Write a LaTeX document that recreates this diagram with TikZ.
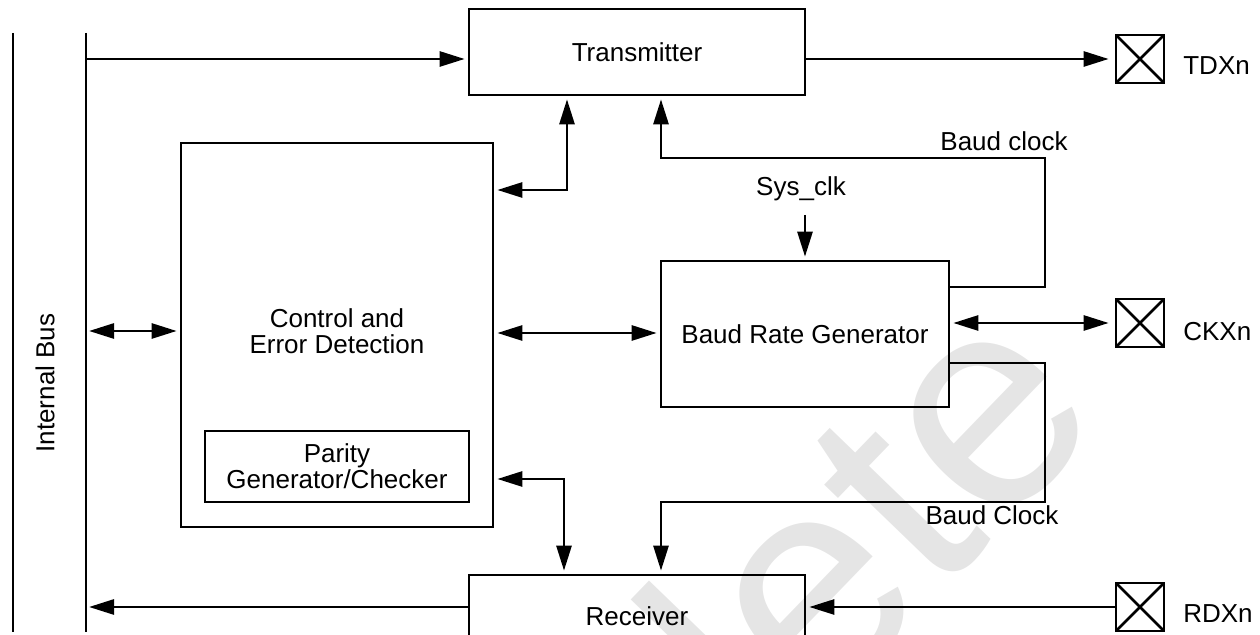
\documentclass[tikz,border=0pt]{standalone}
\usepackage{fontspec}
\setmainfont{Liberation Sans}
\usetikzlibrary{arrows.meta}
\newcommand\dfs{\fontsize{13pt}{13pt}\selectfont}
\begin{document}
\begin{tikzpicture}[x=0.5pt,y=-0.5pt,line width=1.35pt,
  box/.style={draw,inner sep=0pt,align=center,font=\dfs},
  lbl/.style={inner sep=0pt,align=center,font=\dfs},
  pad/.style={draw,minimum width=24pt,minimum height=24pt,inner sep=0pt,
    path picture={\draw (path picture bounding box.north west) -- (path picture bounding box.south east)
                        (path picture bounding box.north east) -- (path picture bounding box.south west);}},
  bigtri/.tip={Triangle[length=12.5pt,width=7.5pt]},
  arr/.style={-bigtri,shorten >=1.5pt},
  arrb/.style={bigtri-bigtri,shorten >=1.5pt,shorten <=1.5pt}]
\useasboundingbox (0,0) rectangle (1260,635);
% watermark
\begin{scope}
\clip (0,0) rectangle (1260,635);
\node[anchor=base east,rotate=46,inner sep=0pt,text=black!10,
  font=\fontsize{150pt}{150pt}\selectfont] (wm) at (1110,417) {Obsolete};
\end{scope}
% bus lines
\coordinate (outT) at (13,33);
\coordinate (outB) at (13,632);
\coordinate (busT) at (86,33);
\coordinate (busB) at (86,632);
\draw (outT) -- (outB);
\draw (busT) -- (busB);
\node[lbl,rotate=90] (ib) at (45,383) {Internal Bus};
% blocks
\node[box,minimum width=168pt,minimum height=43pt] (tx) at (637,52) {Transmitter};
\node[box,minimum width=156pt,minimum height=192pt] (ctrl) at (337,335) {};
\node[lbl] (ctrlt) at (337,331.5) {Control and\\Error Detection};
\node[box,minimum width=132pt,minimum height=35.5pt] (par) at (337,466.5) {Parity\\Generator/Checker};
\node[box,minimum width=144pt,minimum height=73pt] (brg) at (805,334) {Baud Rate Generator};
\node[box,minimum width=168pt,minimum height=41pt] (rx) at (637,616) {Receiver};
% pads
\node[pad] (td) at (1140,59) {};
\node[pad] (ck) at (1140,323) {};
\node[pad] (rd) at (1140,607) {};
\node[lbl,anchor=base west] (tdl) at (1182,75) {TDXn};
\node[lbl,anchor=base west] (ckl) at (1182,341) {CKXn};
\node[lbl,anchor=base west] (rdl) at (1182,623) {RDXn};
% labels
\node[lbl,anchor=base] (sys) at (801,196) {Sys\_clk};
\node[lbl,anchor=base] (bc1) at (1004,151) {Baud clock};
\node[lbl,anchor=base] (bc2) at (992,525) {Baud Clock};
% connectors
\draw[arr] (busT |- 0,59) -- (tx.west |- 0,59);
\draw[arr,shorten >=3pt] (tx.east |- td.west) -- (td.west);
\draw[arrb] (busT |- 0,331) -- (ctrl.west |- 0,331);
\draw[arrb] (ctrl.east |- 0,190) -| (tx.south -| 567,0);
\draw[arr] (brg.east |- 0,287) -| (1045,158) -| (tx.south -| 661,0);
\draw[arr] (brg.north |- 0,215) -- (brg.north);
\draw[arrb] (ctrl.east |- 0,333) -- (brg.west |- 0,333);
\draw[arrb,shorten >=3pt] (brg.east |- ck.west) -- (ck.west);
\draw[arr] (brg.east |- 0,363) -| (1045,502) -| (rx.north -| 661,0);
\draw[arrb] (ctrl.east |- 0,479) -| (rx.north -| 564,0);
\draw[arr] (rx.west |- 0,607) -- (busT |- 0,607);
\draw[arr] (rd.west) -- (rx.east |- rd.west);
\end{tikzpicture}
\end{document}
